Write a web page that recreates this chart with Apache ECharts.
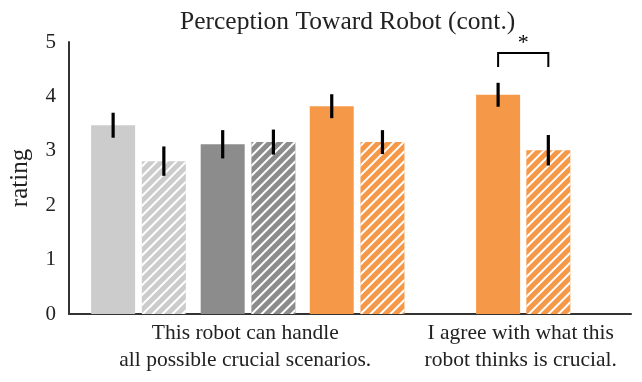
<!DOCTYPE html>
<html>
<head>
<meta charset="utf-8">
<script src="https://cdn.jsdelivr.net/npm/echarts@6/dist/echarts.min.js"></script>
<style>
  html, body { margin: 0; padding: 0; background: #fff; }
  #main { width: 642px; height: 382px; }
</style>
</head>
<body>
<div id="main"></div>
<script>
// 数据：每根柱子的位置(以柱间距为单位)、均值和误差
const questions = ['This robot can handle\nall possible crucial scenarios.', 'I agree with what this\nrobot thinks is crucial.'];
const barGroup = [0, 0, 0, 0, 0, 0, 1, 1];
const barPos = [0, 1, 2.16, 3.16, 4.31, 5.31, 7.59, 8.58];
const barMean = [3.47, 2.81, 3.12, 3.16, 3.82, 3.16, 4.03, 3.01];
const barErr = [0.23, 0.27, 0.26, 0.23, 0.22, 0.22, 0.22, 0.28];
const barColor = ['#cccccc', '#cccccc', '#8c8c8c', '#8c8c8c', '#f59848', '#f59848', '#f59848', '#f59848'];
const barHatched = [false, true, false, true, false, true, false, true];
// 显著性标记：[左柱, 右柱, 横线高度, 竖线底部]
const sigPairs = [[6, 7, 4.8, 4.54]];
const yTicks = [0, 1, 2, 3, 4, 5];

const FONT = '"Liberation Serif", "DejaVu Serif", serif';

// 每个问题的标签放在该组柱子的中间
const labelPos = questions.map((q, g) => {
  const ps = barPos.filter((p, i) => barGroup[i] === g);
  return (Math.min(...ps) + Math.max(...ps)) / 2 - 0.05;
});

const hatch = {
  symbol: 'rect',
  symbolSize: 1,
  dashArrayX: [1, 0],
  dashArrayY: [1.5, 5],
  rotation: -Math.PI / 4,
  color: '#ffffff'
};

const barData = barPos.map((p, i) => {
  const style = { color: barColor[i] };
  if (barHatched[i]) style.decal = hatch;
  return { value: [p, barMean[i]], itemStyle: style };
});

const errData = barPos.map((p, i) => [p, barMean[i] - barErr[i], barMean[i] + barErr[i]]);

const sigData = sigPairs.map(s => [barPos[s[0]], barPos[s[1]], s[2], s[3]]);

const option = {
  animation: false,
  title: {
    text: 'Perception Toward Robot (cont.)',
    left: 175,
    top: 4,
    textStyle: { fontFamily: FONT, fontSize: 25.5, fontWeight: 'normal', color: '#222' }
  },
  grid: { left: 66, right: 11, top: 42, bottom: 68 },
  xAxis: {
    type: 'value',
    min: -0.87,
    max: 10.21,
    axisLine: { show: true, onZero: false, lineStyle: { color: '#333', width: 2 } },
    axisTick: { show: false },
    splitLine: { show: false },
    axisLabel: {
      customValues: labelPos,
      formatter: (v) => questions[labelPos.indexOf(v)] || '',
      fontFamily: FONT,
      fontSize: 21.5,
      lineHeight: 27,
      color: '#222',
      margin: 6
    }
  },
  yAxis: {
    type: 'value',
    min: yTicks[0],
    max: yTicks[yTicks.length - 1],
    interval: 1,
    name: 'rating',
    nameLocation: 'middle',
    nameRotate: 90,
    nameGap: 36,
    nameTextStyle: { fontFamily: FONT, fontSize: 25, color: '#222' },
    axisLine: { show: true, onZero: false, lineStyle: { color: '#333', width: 2 } },
    axisTick: { show: false },
    splitLine: { show: false },
    axisLabel: { fontFamily: FONT, fontSize: 21, color: '#222', margin: 13 }
  },
  series: [{
    type: 'bar',
    barWidth: 44,
    data: barData
  }, {
    // 误差线
    type: 'custom',
    data: errData,
    z: 5,
    renderItem: (params, api) => {
      const a = api.coord([api.value(0), api.value(1)]);
      const b = api.coord([api.value(0), api.value(2)]);
      return {
        type: 'line',
        shape: { x1: a[0], y1: a[1], x2: b[0], y2: b[1] },
        style: { stroke: '#000', lineWidth: 3.2 }
      };
    }
  }, {
    // 显著性括号
    type: 'custom',
    data: sigData,
    z: 5,
    renderItem: (params, api) => {
      const l0 = api.coord([api.value(0), api.value(3)]);
      const l1 = api.coord([api.value(0), api.value(2)]);
      const r1 = api.coord([api.value(1), api.value(2)]);
      const r0 = api.coord([api.value(1), api.value(3)]);
      return {
        type: 'group',
        children: [{
          type: 'polyline',
          shape: { points: [l0, l1, r1, r0] },
          style: { stroke: '#000', lineWidth: 2, fill: null }
        }, {
          type: 'text',
          style: {
            text: '*',
            x: (l1[0] + r1[0]) / 2,
            y: l1[1] + 1,
            align: 'center',
            verticalAlign: 'bottom',
            font: '22px ' + FONT,
            fill: '#000'
          }
        }]
      };
    }
  }]
};

const myChart = echarts.init(document.getElementById('main'));
myChart.setOption(option);
</script>
</body>
</html>
